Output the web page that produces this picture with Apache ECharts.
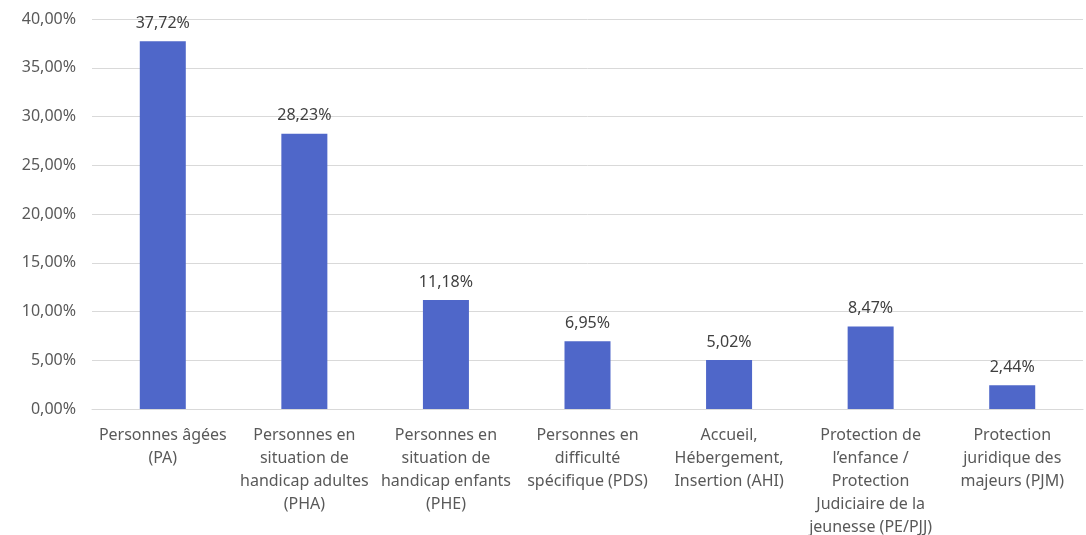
<!DOCTYPE html>
<html><head><meta charset="utf-8">
<script src="https://cdn.jsdelivr.net/npm/echarts@6/dist/echarts.min.js"></script>
<style>html,body{margin:0;padding:0;background:#fff}#c{width:1086px;height:535px}</style>
</head><body><div id="c"></div>
<script>
const categories = [
  "Personnes âgées\n(PA)",
  "Personnes en\nsituation de\nhandicap adultes\n(PHA)",
  "Personnes en\nsituation de\nhandicap enfants\n(PHE)",
  "Personnes en\ndifficulté\nspécifique (PDS)",
  "Accueil,\nHébergement,\nInsertion (AHI)",
  "Protection de\nl’enfance /\nProtection\nJudiciaire de la\njeunesse (PE/PJJ)",
  "Protection\njuridique des\nmajeurs (PJM)"
];
const values = [37.72, 28.23, 11.18, 6.95, 5.02, 8.47, 2.44];
const yTicks = { min: 0, max: 40, interval: 5 };

const fmt = v => v.toFixed(2).replace('.', ',') + '%';
const font = '"Noto Sans", "Open Sans", sans-serif';
const chart = echarts.init(document.getElementById('c'));
chart.setOption({
  animation: false,
  grid: { left: 92, right: 3, top: 19, bottom: 126, containLabel: false, outerBoundsMode: 'none' },
  xAxis: {
    type: 'category', data: categories,
    axisLine: { lineStyle: { color: '#d9d9d9' } },
    axisTick: { show: false },
    axisLabel: { color: '#595959', fontSize: 16, fontFamily: font, lineHeight: 23, margin: 15, interval: 0 }
  },
  yAxis: {
    type: 'value', min: yTicks.min, max: yTicks.max, interval: yTicks.interval,
    axisLine: { show: false }, axisTick: { show: false },
    splitLine: { lineStyle: { color: '#d9d9d9' } },
    axisLabel: { color: '#595959', fontSize: 16, fontFamily: font, margin: 16, formatter: fmt }
  },
  series: [{
    type: 'bar', data: values, barWidth: '32.5%',
    itemStyle: { color: '#4f67c9' },
    label: { show: true, position: 'top', distance: 10, color: '#404040', fontSize: 16, fontFamily: font, formatter: p => fmt(p.value) }
  }]
});
</script></body></html>
